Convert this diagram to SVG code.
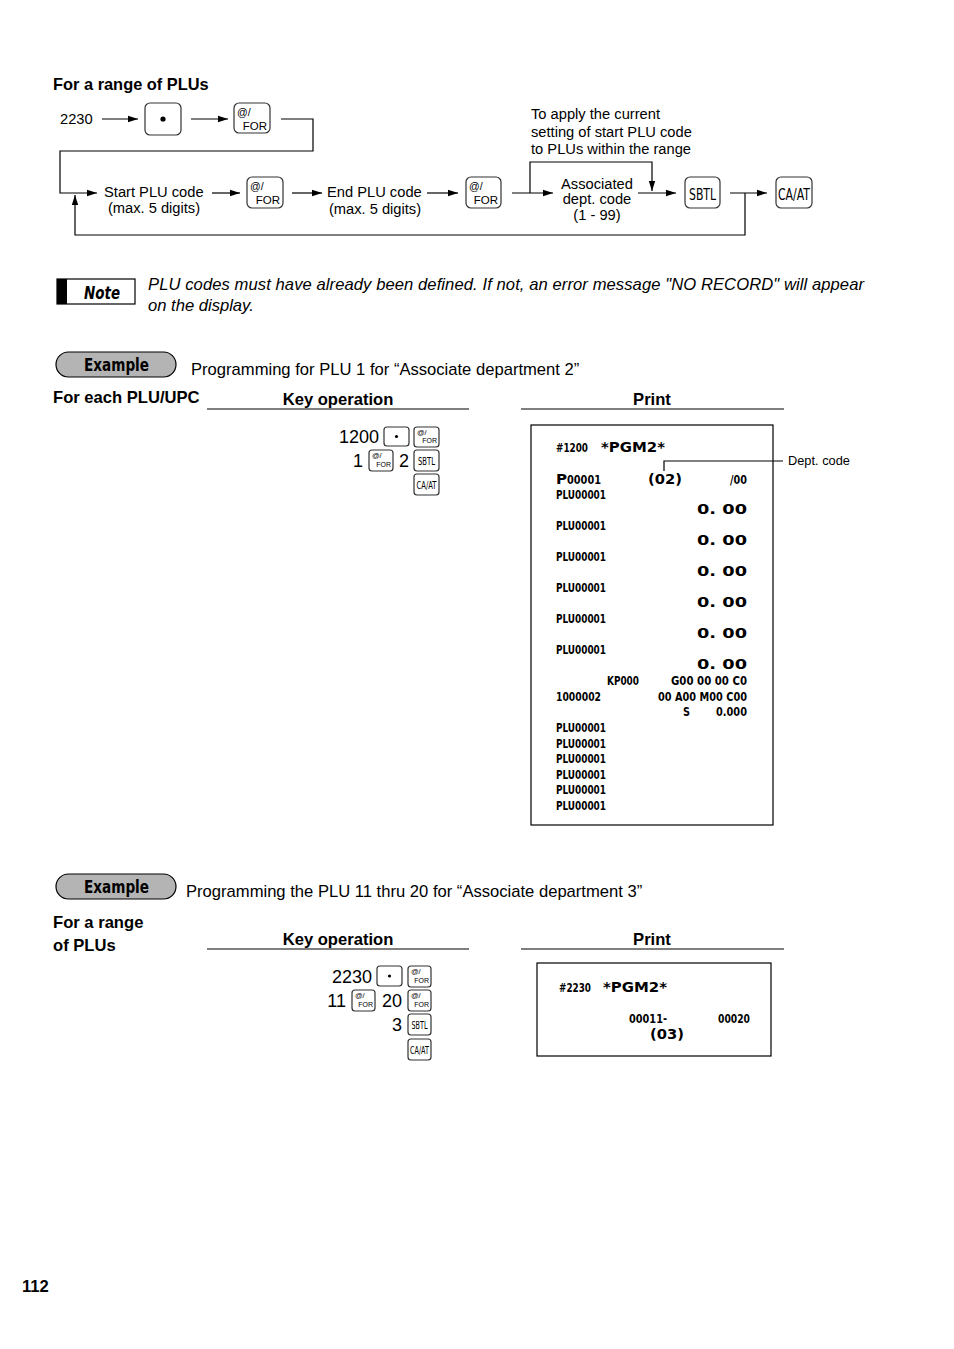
<svg xmlns="http://www.w3.org/2000/svg" width="954" height="1349" viewBox="0 0 954 1349">
<style>
.t{font-family:"Liberation Sans",Arial,sans-serif;fill:#000}
.b{font-weight:bold}
.ln{stroke:#000;stroke-width:1.2;fill:none}
.key{fill:#fff;stroke:#333;stroke-width:1.2}
.kt{font-family:"Liberation Sans",Arial,sans-serif;fill:#000}
.kc{font-family:"DejaVu Sans","Liberation Sans",sans-serif;fill:#000}
.r{font-family:"DejaVu Sans Condensed","DejaVu Sans",sans-serif;font-weight:bold;fill:#000;font-size:12.5px}
.rb{font-family:"DejaVu Sans","Liberation Sans",sans-serif;font-weight:bold;fill:#000;font-size:14.5px}
.badge{fill:#b4b4b4;stroke:#000;stroke-width:1.2}
.bt{font-family:"DejaVu Sans","Liberation Sans",sans-serif;font-weight:bold;font-size:18px;fill:#000}
</style>
<defs>
<marker id="ah" markerUnits="userSpaceOnUse" markerWidth="10" markerHeight="8" refX="10" refY="4" orient="auto">
<path d="M0,0.8 L10,4 L0,7.2 z" fill="#000"/>
</marker>
</defs>
<rect width="954" height="1349" fill="#fff"/>

<!-- Title -->
<text class="t b" x="53" y="90" font-size="16.4">For a range of PLUs</text>

<!-- Flow nodes -->
<g id="n2230"><text class="t" x="60" y="124" font-size="14.7">2230</text></g>
<g id="kdot1"><rect class="key" x="145" y="103" width="36" height="32" rx="5"/><circle cx="163" cy="119" r="2.6" fill="#000"/></g>
<g id="kfor1"><rect class="key" x="234" y="103" width="36" height="30" rx="5"/><text class="kt" x="237" y="116" font-size="10.5">@/</text><text class="kt" x="267" y="130" font-size="11.5" text-anchor="end">FOR</text></g>
<g id="nstart"><text class="t" x="104" y="197" font-size="14.7">Start PLU code</text><text class="t" x="154" y="213" font-size="14.7" text-anchor="middle">(max. 5 digits)</text></g>
<g id="kfor2"><rect class="key" x="247" y="177" width="36" height="31" rx="5"/><text class="kt" x="250" y="190" font-size="10.5">@/</text><text class="kt" x="280" y="204" font-size="11.5" text-anchor="end">FOR</text></g>
<g id="nend"><text class="t" x="327" y="197" font-size="14.7">End PLU code</text><text class="t" x="375" y="214" font-size="14.7" text-anchor="middle">(max. 5 digits)</text></g>
<g id="kfor3"><rect class="key" x="466" y="177" width="35" height="31" rx="5"/><text class="kt" x="469" y="190" font-size="10.5">@/</text><text class="kt" x="498" y="204" font-size="11.5" text-anchor="end">FOR</text></g>
<g id="napply"><text class="t" x="531" y="119" font-size="14.7">To apply the current</text><text class="t" x="531" y="137" font-size="14.7">setting of start PLU code</text><text class="t" x="531" y="154" font-size="14.7">to PLUs within the range</text></g>
<g id="ndept"><text class="t" x="597" y="189" font-size="14.7" text-anchor="middle">Associated</text><text class="t" x="597" y="204" font-size="14.7" text-anchor="middle">dept. code</text><text class="t" x="597" y="220" font-size="14.7" text-anchor="middle">(1 - 99)</text></g>
<g id="ksbtl"><rect class="key" x="685" y="177" width="35" height="31" rx="5"/><text class="kc" x="702.5" y="200" font-size="16" text-anchor="middle" textLength="27" lengthAdjust="spacingAndGlyphs">SBTL</text></g>
<g id="kcaat"><rect class="key" x="776" y="177" width="36" height="31" rx="5"/><text class="kc" x="794" y="200" font-size="16" text-anchor="middle" textLength="32" lengthAdjust="spacingAndGlyphs">CA/AT</text></g>

<!-- Note -->
<g id="note">
<rect x="57" y="279" width="78" height="25" fill="#fff" stroke="#000" stroke-width="1.2"/>
<rect x="57" y="279" width="10" height="25" fill="#000"/>
<text class="bt" x="84" y="299" font-style="italic" font-size="18" textLength="36" lengthAdjust="spacingAndGlyphs">Note</text>
<text class="t" x="148" y="290" font-size="16.6" font-style="italic" textLength="716" lengthAdjust="spacing">PLU codes must have already been defined.  If not, an error message "NO RECORD" will appear</text>
<text class="t" x="148" y="311" font-size="16.6" font-style="italic">on the display.</text>
</g>

<!-- Example 1 -->
<g id="example1">
<rect class="badge" x="56" y="352" width="120" height="25" rx="12.5"/>
<text class="bt" x="84" y="371" textLength="65" lengthAdjust="spacingAndGlyphs">Example</text>
<text class="t" x="191" y="375" font-size="16.6">Programming for PLU 1 for “Associate department 2”</text>
<text class="t b" x="53" y="403" font-size="16.6">For each PLU/UPC</text>
<text class="t b" x="338" y="405" font-size="16.6" text-anchor="middle">Key operation</text>
<line x1="207" y1="409" x2="469" y2="409" stroke="#000" stroke-width="1.2"/>
<text class="t b" x="652" y="405" font-size="16.6" text-anchor="middle">Print</text>
<line x1="521" y1="409" x2="784" y2="409" stroke="#000" stroke-width="1.2"/>
</g>

<g id="keys1">
<text class="t" x="379" y="443" font-size="18" text-anchor="end">1200</text>
<rect class="key" x="384" y="427" width="25" height="19" rx="3"/><circle cx="396.5" cy="436.5" r="1.6" fill="#000"/>
<rect class="key" x="414" y="427" width="25" height="20" rx="3"/><text class="kt" x="417" y="435" font-size="7.5">@/</text><text class="kt" x="437" y="443" font-size="7" text-anchor="end">FOR</text>
<text class="t" x="363" y="467" font-size="18" text-anchor="end">1</text>
<rect class="key" x="369" y="450" width="24" height="21" rx="3"/><text class="kt" x="372" y="458" font-size="7.5">@/</text><text class="kt" x="391" y="467" font-size="7" text-anchor="end">FOR</text>
<text class="t" x="404" y="467" font-size="18" text-anchor="middle">2</text>
<rect class="key" x="414" y="450" width="25" height="21" rx="3"/><text class="kc" x="426.5" y="465" font-size="10" text-anchor="middle" textLength="17" lengthAdjust="spacingAndGlyphs">SBTL</text>
<rect class="key" x="414" y="474" width="25" height="21" rx="3"/><text class="kc" x="426.5" y="489" font-size="10" text-anchor="middle" textLength="20" lengthAdjust="spacingAndGlyphs">CA/AT</text>
</g>

<g id="receipt1">
<rect x="531" y="425" width="242" height="400" fill="#fff" stroke="#000" stroke-width="1.2"/>
<text class="r" x="556" y="452" textLength="32" lengthAdjust="spacingAndGlyphs">#1200</text>
<text class="rb" x="601" y="452" textLength="64" lengthAdjust="spacingAndGlyphs">*PGM2*</text>
<text class="rb" x="556" y="484" font-size="13" textLength="11" lengthAdjust="spacingAndGlyphs">P</text>
<text class="r" x="567" y="484" textLength="34" lengthAdjust="spacingAndGlyphs">00001</text>
<text class="rb" x="648" y="484" font-size="13.5" textLength="34" lengthAdjust="spacingAndGlyphs">(02)</text>
<text class="r" x="730" y="484" textLength="17" lengthAdjust="spacingAndGlyphs">/00</text>
<text class="r" x="556" y="499" textLength="50" lengthAdjust="spacingAndGlyphs">PLU00001</text>
<text class="rb" x="697" y="514" textLength="50" lengthAdjust="spacingAndGlyphs">0. 00</text>
<text class="r" x="556" y="530" textLength="50" lengthAdjust="spacingAndGlyphs">PLU00001</text>
<text class="rb" x="697" y="545" textLength="50" lengthAdjust="spacingAndGlyphs">0. 00</text>
<text class="r" x="556" y="561" textLength="50" lengthAdjust="spacingAndGlyphs">PLU00001</text>
<text class="rb" x="697" y="576" textLength="50" lengthAdjust="spacingAndGlyphs">0. 00</text>
<text class="r" x="556" y="592" textLength="50" lengthAdjust="spacingAndGlyphs">PLU00001</text>
<text class="rb" x="697" y="607" textLength="50" lengthAdjust="spacingAndGlyphs">0. 00</text>
<text class="r" x="556" y="623" textLength="50" lengthAdjust="spacingAndGlyphs">PLU00001</text>
<text class="rb" x="697" y="638" textLength="50" lengthAdjust="spacingAndGlyphs">0. 00</text>
<text class="r" x="556" y="654" textLength="50" lengthAdjust="spacingAndGlyphs">PLU00001</text>
<text class="rb" x="697" y="669" textLength="50" lengthAdjust="spacingAndGlyphs">0. 00</text>
<text class="r" x="607" y="685" textLength="32" lengthAdjust="spacingAndGlyphs">KP000</text>
<text class="r" x="671" y="685" textLength="76" lengthAdjust="spacingAndGlyphs">G00 00 00 C0</text>
<text class="r" x="556" y="701" textLength="45" lengthAdjust="spacingAndGlyphs">1000002</text>
<text class="r" x="658" y="701" textLength="89" lengthAdjust="spacingAndGlyphs">00 A00 M00 C00</text>
<text class="r" x="683" y="716" textLength="7" lengthAdjust="spacingAndGlyphs">S</text>
<text class="r" x="716" y="716" textLength="31" lengthAdjust="spacingAndGlyphs">0.000</text>
<text class="r" x="556" y="732" textLength="50" lengthAdjust="spacingAndGlyphs">PLU00001</text>
<text class="r" x="556" y="748" textLength="50" lengthAdjust="spacingAndGlyphs">PLU00001</text>
<text class="r" x="556" y="763" textLength="50" lengthAdjust="spacingAndGlyphs">PLU00001</text>
<text class="r" x="556" y="779" textLength="50" lengthAdjust="spacingAndGlyphs">PLU00001</text>
<text class="r" x="556" y="794" textLength="50" lengthAdjust="spacingAndGlyphs">PLU00001</text>
<text class="r" x="556" y="810" textLength="50" lengthAdjust="spacingAndGlyphs">PLU00001</text>
</g>
<g id="deptlabel"><text class="t" x="788" y="465" font-size="12.8">Dept. code</text></g>

<!-- Example 2 -->
<g id="example2">
<rect class="badge" x="56" y="874" width="120" height="25" rx="12.5"/>
<text class="bt" x="84" y="893" textLength="65" lengthAdjust="spacingAndGlyphs">Example</text>
<text class="t" x="186" y="897" font-size="16.6">Programming the PLU 11 thru 20 for “Associate department 3”</text>
<text class="t b" x="53" y="928" font-size="16.6">For a range</text>
<text class="t b" x="53" y="951" font-size="16.6">of PLUs</text>
<text class="t b" x="338" y="945" font-size="16.6" text-anchor="middle">Key operation</text>
<line x1="207" y1="949" x2="469" y2="949" stroke="#000" stroke-width="1.2"/>
<text class="t b" x="652" y="945" font-size="16.6" text-anchor="middle">Print</text>
<line x1="521" y1="949" x2="784" y2="949" stroke="#000" stroke-width="1.2"/>
</g>

<g id="keys2">
<text class="t" x="372" y="983" font-size="18" text-anchor="end">2230</text>
<rect class="key" x="377" y="966" width="25" height="20" rx="3"/><circle cx="389.5" cy="976" r="1.6" fill="#000"/>
<rect class="key" x="408" y="966" width="23" height="21" rx="3"/><text class="kt" x="411" y="974" font-size="7.5">@/</text><text class="kt" x="429" y="983" font-size="7" text-anchor="end">FOR</text>
<text class="t" x="346" y="1007" font-size="18" text-anchor="end">11</text>
<rect class="key" x="352" y="990" width="23" height="21" rx="3"/><text class="kt" x="355" y="998" font-size="7.5">@/</text><text class="kt" x="373" y="1007" font-size="7" text-anchor="end">FOR</text>
<text class="t" x="392" y="1007" font-size="18" text-anchor="middle">20</text>
<rect class="key" x="408" y="990" width="23" height="21" rx="3"/><text class="kt" x="411" y="998" font-size="7.5">@/</text><text class="kt" x="429" y="1007" font-size="7" text-anchor="end">FOR</text>
<text class="t" x="402" y="1031" font-size="18" text-anchor="end">3</text>
<rect class="key" x="408" y="1014" width="23" height="21" rx="3"/><text class="kc" x="419.5" y="1029" font-size="10" text-anchor="middle" textLength="16" lengthAdjust="spacingAndGlyphs">SBTL</text>
<rect class="key" x="408" y="1039" width="23" height="21" rx="3"/><text class="kc" x="419.5" y="1054" font-size="10" text-anchor="middle" textLength="19" lengthAdjust="spacingAndGlyphs">CA/AT</text>
</g>

<g id="receipt2">
<rect x="537" y="963" width="234" height="93" fill="#fff" stroke="#000" stroke-width="1.2"/>
<text class="r" x="559" y="992" textLength="32" lengthAdjust="spacingAndGlyphs">#2230</text>
<text class="rb" x="603" y="992" textLength="64" lengthAdjust="spacingAndGlyphs">*PGM2*</text>
<text class="r" x="629" y="1023" textLength="38" lengthAdjust="spacingAndGlyphs">00011-</text>
<text class="r" x="718" y="1023" textLength="32" lengthAdjust="spacingAndGlyphs">00020</text>
<text class="rb" x="650" y="1039" font-size="13" textLength="34" lengthAdjust="spacingAndGlyphs">(03)</text>
</g>

<!-- Connectors -->
<g id="connectors">
<line class="ln" x1="102" y1="119" x2="138" y2="119" marker-end="url(#ah)"/>
<line class="ln" x1="191" y1="119" x2="228" y2="119" marker-end="url(#ah)"/>
<polyline class="ln" points="281,119 313,119 313,151 60,151 60,193 97,193" marker-end="url(#ah)"/>
<line class="ln" x1="212" y1="193" x2="240" y2="193" marker-end="url(#ah)"/>
<line class="ln" x1="292" y1="193" x2="322" y2="193" marker-end="url(#ah)"/>
<line class="ln" x1="427" y1="193" x2="458" y2="193" marker-end="url(#ah)"/>
<line class="ln" x1="512" y1="193" x2="553" y2="193" marker-end="url(#ah)"/>
<polyline class="ln" points="530,193 530,162 652,162 652,191" marker-end="url(#ah)"/>
<line class="ln" x1="638" y1="193" x2="676" y2="193" marker-end="url(#ah)"/>
<line class="ln" x1="730" y1="193" x2="767" y2="193" marker-end="url(#ah)"/>
<polyline class="ln" points="745,193 745,235 75,235 75,195" marker-end="url(#ah)"/>
<polyline class="ln" points="664,471 664,461 783,461"/>
</g>

<text class="t b" x="22" y="1292" font-size="16.6">112</text>
</svg>
